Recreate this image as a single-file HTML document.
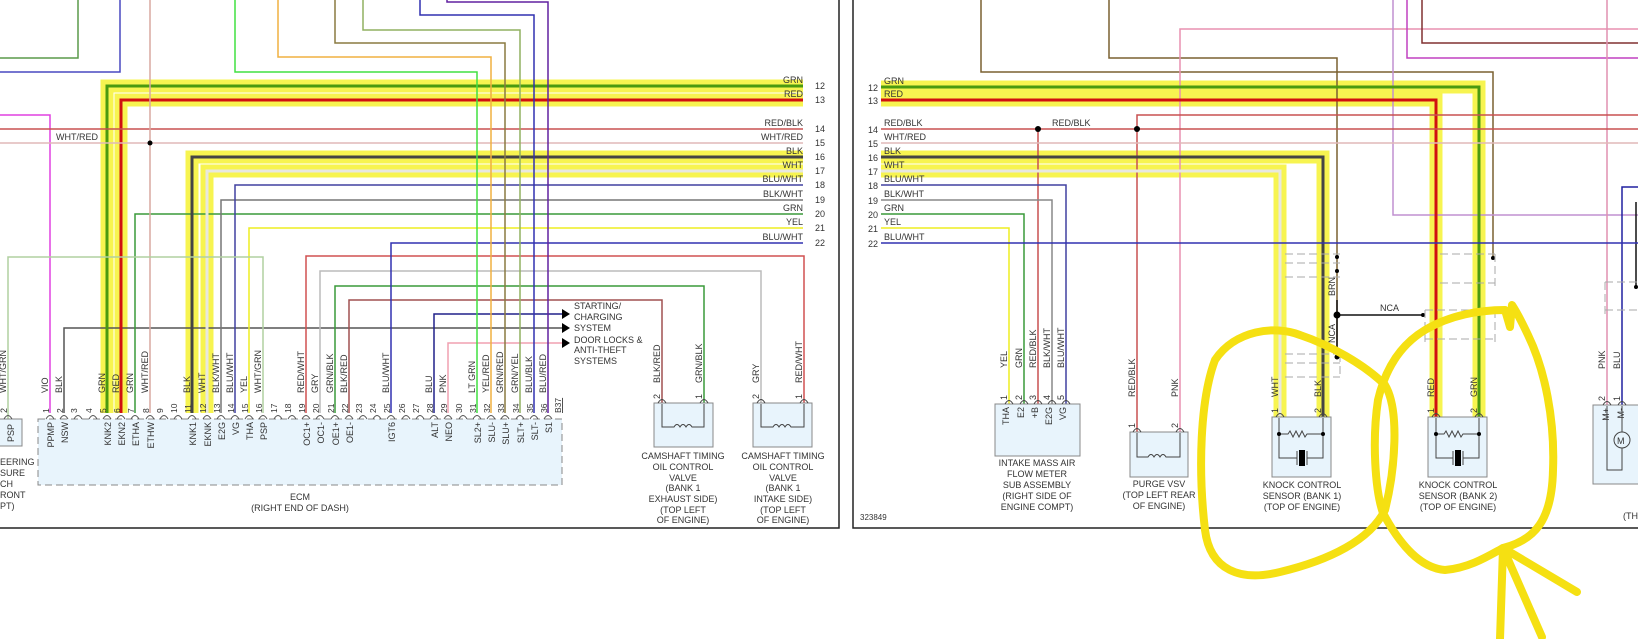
<!DOCTYPE html>
<html><head><meta charset="utf-8"><style>
html,body{margin:0;padding:0;background:#fff;}
svg{display:block;}
text{font-family:"Liberation Sans",sans-serif;fill:#333;}
</style></head><body>
<svg width="1638" height="639" viewBox="0 0 1638 639" xmlns="http://www.w3.org/2000/svg" font-size="9">
<!-- highlights -->
<g fill="none" stroke="#f7f450" stroke-width="13" stroke-linejoin="miter">
<path d="M107,413 V86 H803"/><path d="M121,413 V100 H803"/>
<path d="M192,413 V157 H803"/><path d="M207,413 V171 H803"/>
<path d="M881,87 H1479 V419"/><path d="M881,100 H1436 V419"/>
<path d="M881,157 H1323 V419"/><path d="M881,171 H1280 V419"/>
</g>
<!-- frames -->
<g stroke="#222" stroke-width="1.5" fill="none">
<path d="M839,0 V528 H0"/><path d="M853,0 V528 H1638"/>
</g>
<!-- left wires -->
<g fill="none" stroke-width="1.5">
<path d="M0,58 H78 V0" stroke="#5a9a4a"/>
<path d="M0,72 H120 V0" stroke="#4848c0"/>
<path d="M0,115 H50 V413" stroke="#e040e0"/>
<path d="M64,413 V328 H562" stroke="#555"/>
<path d="M107,413 V86 H803" stroke="#4a9a10" stroke-width="3"/>
<path d="M121,413 V100 H803" stroke="#d01010" stroke-width="3"/>
<path d="M135,413 V214 H803" stroke="#3a9a3a"/>
<path d="M0,129 H803" stroke="#c85050"/>
<path d="M0,143 H803" stroke="#e0b8b8"/>
<path d="M150,413 V0" stroke="#d8a8a0"/>
<path d="M192,413 V157 H803" stroke="#444" stroke-width="3"/>
<path d="M207,413 V171 H803" stroke="#e8e8e0" stroke-width="3"/>
<path d="M221,413 V200 H803" stroke="#777"/>
<path d="M235,413 V185 H803" stroke="#4040a0"/>
<path d="M249,413 V228 H803" stroke="#eded20"/>
<path d="M263,413 V257 H8 V419" stroke="#b0d0a0"/>
<path d="M306,413 V256 H804 V403" stroke="#d05050"/>
<path d="M320,413 V271 H761 V403" stroke="#bbb"/>
<path d="M335,413 V286 H704 V403" stroke="#3a9a3a"/>
<path d="M349,413 V300 H662 V403" stroke="#a05050"/>
<path d="M391,413 V243 H803" stroke="#3030b0"/>
<path d="M434,413 V314 H562" stroke="#20208a"/>
<path d="M448,413 V343 H562" stroke="#f0a0b0"/>
<path d="M477,413 V72 H235 V0" stroke="#40e040"/>
<path d="M491,413 V57 H278 V0" stroke="#f0b040"/>
<path d="M505,413 V43 H335 V0" stroke="#8a7a40"/>
<path d="M520,413 V30 H363 V0" stroke="#90b060"/>
<path d="M534,413 V15 H420 V0" stroke="#3030b0"/>
<path d="M548,413 V2 H447 V0" stroke="#6020a0"/>
</g>
<circle cx="150" cy="143" r="2.5" fill="#000"/>
<g fill="#000"><path d="M562,309 L570,314 L562,319Z"/><path d="M562,323 L570,328 L562,333Z"/><path d="M562,338 L570,343 L562,348Z"/></g>
<!-- left bus labels -->
<g text-anchor="end">
<text x="803" y="83">GRN</text><text x="803" y="97">RED</text><text x="803" y="126">RED/BLK</text><text x="803" y="140">WHT/RED</text>
<text x="803" y="154">BLK</text><text x="803" y="168">WHT</text><text x="803" y="182">BLU/WHT</text><text x="803" y="197">BLK/WHT</text>
<text x="803" y="211">GRN</text><text x="803" y="225">YEL</text><text x="803" y="240">BLU/WHT</text>
</g>
<g><text x="815" y="89">12</text><text x="815" y="103">13</text><text x="815" y="132">14</text><text x="815" y="146">15</text><text x="815" y="160">16</text><text x="815" y="174">17</text><text x="815" y="188">18</text><text x="815" y="203">19</text><text x="815" y="217">20</text><text x="815" y="231">21</text><text x="815" y="246">22</text></g>
<text x="56" y="140">WHT/RED</text>
<text x="574" y="309">STARTING/</text><text x="574" y="320">CHARGING</text><text x="574" y="331">SYSTEM</text>
<text x="574" y="343">DOOR LOCKS &amp;</text><text x="574" y="353">ANTI-THEFT</text><text x="574" y="364">SYSTEMS</text>
<!-- ECM -->
<rect x="38" y="419" width="524" height="66" fill="#e8f4fc" stroke="#888" stroke-dasharray="7,4"/>
<g fill="none" stroke="#555" stroke-width="1">
<path d="M46,419 Q50,412 54,419 M60,419 Q64,412 68,419 M74,419 Q78,412 82,419 M89,419 Q93,412 97,419 M103,419 Q107,412 111,419 M117,419 Q121,412 125,419 M131,419 Q135,412 139,419 M146,419 Q150,412 154,419 M160,419 Q164,412 168,419 M174,419 Q178,412 182,419 M188,419 Q192,412 196,419 M203,419 Q207,412 211,419 M217,419 Q221,412 225,419 M231,419 Q235,412 239,419 M245,419 Q249,412 253,419 M259,419 Q263,412 267,419 M274,419 Q278,412 282,419 M288,419 Q292,412 296,419 M302,419 Q306,412 310,419 M316,419 Q320,412 324,419 M331,419 Q335,412 339,419 M345,419 Q349,412 353,419 M359,419 Q363,412 367,419 M373,419 Q377,412 381,419 M387,419 Q391,412 395,419 M402,419 Q406,412 410,419 M416,419 Q420,412 424,419 M430,419 Q434,412 438,419 M444,419 Q448,412 452,419 M459,419 Q463,412 467,419 M473,419 Q477,412 481,419 M487,419 Q491,412 495,419 M501,419 Q505,412 509,419 M516,419 Q520,412 524,419 M530,419 Q534,412 538,419 M544,419 Q548,412 552,419"/>
</g>
<g font-size="8.5">
<text transform="translate(49,413) rotate(-90)">1</text><text transform="translate(63,413) rotate(-90)">2</text><text transform="translate(77,413) rotate(-90)">3</text><text transform="translate(92,413) rotate(-90)">4</text><text transform="translate(106,413) rotate(-90)">5</text><text transform="translate(120,413) rotate(-90)">6</text><text transform="translate(134,413) rotate(-90)">7</text><text transform="translate(149,413) rotate(-90)">8</text><text transform="translate(163,413) rotate(-90)">9</text><text transform="translate(177,413) rotate(-90)">10</text><text transform="translate(191,413) rotate(-90)">11</text><text transform="translate(206,413) rotate(-90)">12</text><text transform="translate(220,413) rotate(-90)">13</text><text transform="translate(234,413) rotate(-90)">14</text><text transform="translate(248,413) rotate(-90)">15</text><text transform="translate(262,413) rotate(-90)">16</text><text transform="translate(277,413) rotate(-90)">17</text><text transform="translate(291,413) rotate(-90)">18</text><text transform="translate(305,413) rotate(-90)">19</text><text transform="translate(319,413) rotate(-90)">20</text><text transform="translate(334,413) rotate(-90)">21</text><text transform="translate(348,413) rotate(-90)">22</text><text transform="translate(362,413) rotate(-90)">23</text><text transform="translate(376,413) rotate(-90)">24</text><text transform="translate(390,413) rotate(-90)">25</text><text transform="translate(405,413) rotate(-90)">26</text><text transform="translate(419,413) rotate(-90)">27</text><text transform="translate(433,413) rotate(-90)">28</text><text transform="translate(447,413) rotate(-90)">29</text><text transform="translate(462,413) rotate(-90)">30</text><text transform="translate(476,413) rotate(-90)">31</text><text transform="translate(490,413) rotate(-90)">32</text><text transform="translate(504,413) rotate(-90)">33</text><text transform="translate(519,413) rotate(-90)">34</text><text transform="translate(533,413) rotate(-90)">35</text><text transform="translate(547,413) rotate(-90)">36</text><text transform="translate(561,413) rotate(-90)" text-decoration="underline">B37</text>
</g>
<g>
<text transform="translate(48,393) rotate(-90)">VIO</text><text transform="translate(62,393) rotate(-90)">BLK</text><text transform="translate(105,393) rotate(-90)">GRN</text><text transform="translate(119,393) rotate(-90)">RED</text><text transform="translate(133,393) rotate(-90)">GRN</text><text transform="translate(148,393) rotate(-90)">WHT/RED</text><text transform="translate(190,393) rotate(-90)">BLK</text><text transform="translate(205,393) rotate(-90)">WHT</text><text transform="translate(219,393) rotate(-90)">BLK/WHT</text><text transform="translate(233,393) rotate(-90)">BLU/WHT</text><text transform="translate(247,393) rotate(-90)">YEL</text><text transform="translate(261,393) rotate(-90)">WHT/GRN</text><text transform="translate(304,393) rotate(-90)">RED/WHT</text><text transform="translate(318,393) rotate(-90)">GRY</text><text transform="translate(333,393) rotate(-90)">GRN/BLK</text><text transform="translate(347,393) rotate(-90)">BLK/RED</text><text transform="translate(389,393) rotate(-90)">BLU/WHT</text><text transform="translate(432,393) rotate(-90)">BLU</text><text transform="translate(446,393) rotate(-90)">PNK</text><text transform="translate(475,393) rotate(-90)">LT GRN</text><text transform="translate(489,393) rotate(-90)">YEL/RED</text><text transform="translate(503,393) rotate(-90)">GRN/RED</text><text transform="translate(518,393) rotate(-90)">GRN/YEL</text><text transform="translate(532,393) rotate(-90)">BLU/BLK</text><text transform="translate(546,393) rotate(-90)">BLU/RED</text>
<text transform="translate(6,393) rotate(-90)">WHT/GRN</text>
</g>
<g text-anchor="end">
<text transform="translate(54,422) rotate(-90)">PPMP</text><text transform="translate(68,422) rotate(-90)">NSW</text><text transform="translate(111,422) rotate(-90)">KNK2</text><text transform="translate(125,422) rotate(-90)">EKN2</text><text transform="translate(139,422) rotate(-90)">ETHA</text><text transform="translate(154,422) rotate(-90)">ETHW</text><text transform="translate(196,422) rotate(-90)">KNK1</text><text transform="translate(211,422) rotate(-90)">EKNK</text><text transform="translate(225,422) rotate(-90)">E2G</text><text transform="translate(239,422) rotate(-90)">VG</text><text transform="translate(253,422) rotate(-90)">THA</text><text transform="translate(267,422) rotate(-90)">PSP</text><text transform="translate(310,422) rotate(-90)">OC1+</text><text transform="translate(324,422) rotate(-90)">OC1-</text><text transform="translate(339,422) rotate(-90)">OE1+</text><text transform="translate(353,422) rotate(-90)">OE1-</text><text transform="translate(395,422) rotate(-90)">IGT6</text><text transform="translate(438,422) rotate(-90)">ALT</text><text transform="translate(452,422) rotate(-90)">NEO</text><text transform="translate(481,422) rotate(-90)">SL2+</text><text transform="translate(495,422) rotate(-90)">SLU-</text><text transform="translate(509,422) rotate(-90)">SLU+</text><text transform="translate(524,422) rotate(-90)">SLT+</text><text transform="translate(538,422) rotate(-90)">SLT-</text><text transform="translate(552,422) rotate(-90)">S1</text>
</g>
<g text-anchor="middle"><text x="300" y="500">ECM</text><text x="300" y="511">(RIGHT END OF DASH)</text></g>
<!-- PSP -->
<rect x="-2" y="419" width="24" height="27" fill="#e8f4fc" stroke="#888"/>
<path d="M4,419 Q8,412 12,419" fill="none" stroke="#555"/>
<text transform="translate(7,413) rotate(-90)">2</text>
<text transform="translate(14,442) rotate(-90)">PSP</text>
<text x="0" y="465">EERING</text><text x="0" y="476">SURE</text><text x="0" y="487">CH</text><text x="0" y="498">RONT</text><text x="0" y="509">PT)</text>
<!-- cam valves -->
<g fill="#e8f4fc" stroke="#888"><rect x="654" y="403" width="59" height="44"/><rect x="753" y="403" width="59" height="44"/></g>
<g fill="none" stroke="#444">
<path d="M658,403 Q662,396 666,403 M700,403 Q704,396 708,403 M757,403 Q761,396 765,403 M800,403 Q804,396 808,403"/>
<path d="M662,404 V427 H674 q3,-5 6,0 q3,-5 6,0 q3,-5 6,0 H704 V404"/>
<path d="M761,404 V427 H773 q3,-5 6,0 q3,-5 6,0 q3,-5 6,0 H804 V404"/>
</g>
<g><text transform="translate(660,383) rotate(-90)">BLK/RED</text><text transform="translate(702,383) rotate(-90)">GRN/BLK</text><text transform="translate(759,383) rotate(-90)">GRY</text><text transform="translate(802,383) rotate(-90)">RED/WHT</text>
<text transform="translate(660,399) rotate(-90)">2</text><text transform="translate(702,399) rotate(-90)">1</text><text transform="translate(759,399) rotate(-90)">2</text><text transform="translate(802,399) rotate(-90)">1</text></g>
<g text-anchor="middle">
<text x="683" y="459">CAMSHAFT TIMING</text><text x="683" y="470">OIL CONTROL</text><text x="683" y="481">VALVE</text><text x="683" y="491">(BANK 1</text><text x="683" y="502">EXHAUST SIDE)</text><text x="683" y="513">(TOP LEFT</text><text x="683" y="523">OF ENGINE)</text>
<text x="783" y="459">CAMSHAFT TIMING</text><text x="783" y="470">OIL CONTROL</text><text x="783" y="481">VALVE</text><text x="783" y="491">(BANK 1</text><text x="783" y="502">INTAKE SIDE)</text><text x="783" y="513">(TOP LEFT</text><text x="783" y="523">OF ENGINE)</text>
</g>
<!-- right wires -->
<g fill="none" stroke-width="1.5">
<path d="M981,0 V72 H1493 V258" stroke="#7a6030"/>
<path d="M1109,0 V58 H1337 V358" stroke="#7a6030"/>
<path d="M1180,432 V29 H1638" stroke="#e890b0"/>
<path d="M1393,0 V215 H1638" stroke="#c090d0"/>
<path d="M1407,0 V58 H1638" stroke="#c040c0"/>
<path d="M1422,0 V43 H1638" stroke="#803030"/>
<path d="M1607,0 V405" stroke="#e090b0"/>
<path d="M1622,405 V187 H1638" stroke="#2020a0"/>
<path d="M1636,202 V287" stroke="#111"/>
<path d="M881,87 H1479 V419" stroke="#4a9a10" stroke-width="3"/>
<path d="M881,100 H1436 V419" stroke="#d01010" stroke-width="3"/>
<path d="M881,129 H1638" stroke="#c85050"/>
<path d="M1038,129 V404" stroke="#c85050"/>
<path d="M1137,129 V115 H1638 M1137,129 V432" stroke="#c85050"/>
<path d="M881,143 H1638" stroke="#e0b8b8"/>
<path d="M881,157 H1323 V419" stroke="#444" stroke-width="3"/>
<path d="M881,171 H1280 V419" stroke="#e8e8e0" stroke-width="3"/>
<path d="M881,185 H1066 V404" stroke="#4040a0"/>
<path d="M881,200 H1052 V404" stroke="#888"/>
<path d="M881,214 H1024 V404" stroke="#3a9a3a"/>
<path d="M881,228 H1009 V404" stroke="#eded20"/>
<path d="M881,243 H1638" stroke="#3030b0"/>
<path d="M1337,315 H1423" stroke="#111"/>
<path d="M1337,300 V358" stroke="#111"/>
</g>
<g fill="#000"><circle cx="1038" cy="129" r="3"/><circle cx="1137" cy="129" r="3"/><circle cx="1337" cy="257" r="2"/><circle cx="1337" cy="271" r="2"/><circle cx="1337" cy="315" r="3.5"/><circle cx="1337" cy="357" r="2.5"/><circle cx="1423" cy="315" r="2"/><circle cx="1493" cy="258" r="2"/><circle cx="1636" cy="287" r="2"/></g>
<!-- shields -->
<g fill="none" stroke="#aaa" stroke-dasharray="8,4">
<path d="M1285,254 H1340 M1285,263 H1340 M1285,277 H1340"/>
<path d="M1285,354 H1340 M1285,363 H1340 M1285,377 H1340 M1340,354 V377"/>
<path d="M1440,254 H1495 M1440,283 H1495 M1495,254 V288"/>
<path d="M1425,310 H1495 M1425,339 H1495 M1425,310 V345 M1495,310 V345"/>
<path d="M1605,282 H1638 M1605,310 H1638 M1605,282 V318"/>
</g>
<!-- right labels -->
<g><text x="868" y="91">12</text><text x="868" y="104">13</text><text x="868" y="133">14</text><text x="868" y="147">15</text><text x="868" y="161">16</text><text x="868" y="175">17</text><text x="868" y="189">18</text><text x="868" y="204">19</text><text x="868" y="218">20</text><text x="868" y="232">21</text><text x="868" y="247">22</text>
<text x="884" y="84">GRN</text><text x="884" y="97">RED</text><text x="884" y="126">RED/BLK</text><text x="1052" y="126">RED/BLK</text><text x="884" y="140">WHT/RED</text><text x="884" y="154">BLK</text><text x="884" y="168">WHT</text><text x="884" y="182">BLU/WHT</text><text x="884" y="197">BLK/WHT</text><text x="884" y="211">GRN</text><text x="884" y="225">YEL</text><text x="884" y="240">BLU/WHT</text>
<text x="1380" y="311">NCA</text>
<text x="860" y="520" font-size="8">323849</text></g>
<g>
<text transform="translate(1007,368) rotate(-90)">YEL</text><text transform="translate(1022,368) rotate(-90)">GRN</text><text transform="translate(1036,368) rotate(-90)">RED/BLK</text><text transform="translate(1050,368) rotate(-90)">BLK/WHT</text><text transform="translate(1064,368) rotate(-90)">BLU/WHT</text>
<text transform="translate(1007,400) rotate(-90)">1</text><text transform="translate(1022,400) rotate(-90)">2</text><text transform="translate(1036,400) rotate(-90)">3</text><text transform="translate(1050,400) rotate(-90)">4</text><text transform="translate(1064,400) rotate(-90)">5</text>
<text transform="translate(1135,397) rotate(-90)">RED/BLK</text><text transform="translate(1178,397) rotate(-90)">PNK</text>
<text transform="translate(1135,428) rotate(-90)">1</text><text transform="translate(1178,428) rotate(-90)">2</text>
<text transform="translate(1278,397) rotate(-90)">WHT</text><text transform="translate(1321,397) rotate(-90)">BLK</text>
<text transform="translate(1278,413) rotate(-90)">1</text><text transform="translate(1321,413) rotate(-90)">2</text>
<text transform="translate(1434,397) rotate(-90)">RED</text><text transform="translate(1477,397) rotate(-90)">GRN</text>
<text transform="translate(1434,413) rotate(-90)">1</text><text transform="translate(1477,413) rotate(-90)">2</text>
<text transform="translate(1335,296) rotate(-90)">BRN</text><text transform="translate(1335,343) rotate(-90)">NCA</text>
<text transform="translate(1605,369) rotate(-90)">PNK</text><text transform="translate(1620,369) rotate(-90)">BLU</text>
<text transform="translate(1605,401) rotate(-90)">2</text><text transform="translate(1620,401) rotate(-90)">1</text>
</g>
<!-- right devices -->
<g fill="#e8f4fc" stroke="#888">
<rect x="995" y="404" width="85" height="52"/><rect x="1130" y="432" width="58" height="45"/>
<rect x="1272" y="417" width="59" height="60"/><rect x="1428" y="417" width="59" height="60"/>
<rect x="1593" y="405" width="50" height="79"/>
</g>
<g fill="none" stroke="#444">
<path d="M1005,404 Q1009,397 1013,404 M1020,404 Q1024,397 1028,404 M1034,404 Q1038,397 1042,404 M1048,404 Q1052,397 1056,404 M1062,404 Q1066,397 1070,404"/>
<path d="M1133,432 Q1137,425 1141,432 M1176,432 Q1180,425 1184,432 M1137,433 V457 H1148 q3,-5 6,0 q3,-5 6,0 q3,-5 6,0 H1180 V433"/>
<path d="M1276,417 Q1280,410 1284,417 M1319,417 Q1323,410 1327,417 M1279,418 V458 H1297 M1307,458 H1323 V418 M1279,434 H1288 l2,-3 l3,6 l3,-6 l3,6 l3,-6 l3,6 l2,-3 H1323 M1297,451 V465 M1307,451 V465"/>
<path d="M1432,417 Q1436,410 1440,417 M1475,417 Q1479,410 1483,417 M1436,418 V458 H1453 M1463,458 H1479 V418 M1436,434 H1444 l2,-3 l3,6 l3,-6 l3,6 l3,-6 l3,6 l2,-3 H1479 M1453,451 V465 M1463,451 V465"/>
<path d="M1603,405 Q1607,398 1611,405 M1618,405 Q1622,398 1626,405 M1607,406 V470 H1622 V448 M1622,406 V432"/>
<circle cx="1622" cy="440" r="8"/>
</g>
<g fill="#000"><rect x="1299" y="450" width="6" height="16"/><rect x="1455" y="450" width="6" height="16"/><circle cx="1279" cy="434" r="2"/><circle cx="1323" cy="434" r="2"/><circle cx="1436" cy="434" r="2"/><circle cx="1479" cy="434" r="2"/></g>
<text x="1617" y="444" font-size="9">M</text>
<g text-anchor="end">
<text transform="translate(1009,407) rotate(-90)">THA</text><text transform="translate(1024,407) rotate(-90)">E2</text><text transform="translate(1038,407) rotate(-90)">+B</text><text transform="translate(1052,407) rotate(-90)">E2G</text><text transform="translate(1066,407) rotate(-90)">VG</text>
<text transform="translate(1609,408) rotate(-90)">M+</text><text transform="translate(1624,408) rotate(-90)">M-</text>
</g>
<g text-anchor="middle">
<text x="1037" y="466">INTAKE MASS AIR</text><text x="1037" y="477">FLOW METER</text><text x="1037" y="488">SUB ASSEMBLY</text><text x="1037" y="499">(RIGHT SIDE OF</text><text x="1037" y="510">ENGINE COMPT)</text>
<text x="1159" y="487">PURGE VSV</text><text x="1159" y="498">(TOP LEFT REAR</text><text x="1159" y="509">OF ENGINE)</text>
<text x="1302" y="488">KNOCK CONTROL</text><text x="1302" y="499">SENSOR (BANK 1)</text><text x="1302" y="510">(TOP OF ENGINE)</text>
<text x="1458" y="488">KNOCK CONTROL</text><text x="1458" y="499">SENSOR (BANK 2)</text><text x="1458" y="510">(TOP OF ENGINE)</text>
</g>
<text x="1623" y="519">(TH</text>
<!-- hand-drawn yellow -->
<g fill="none" stroke="#f5e012" stroke-width="8" stroke-linecap="round" stroke-linejoin="round">
<path d="M1300,335 C1330,345 1365,365 1385,385 C1400,410 1395,470 1385,510 C1370,540 1330,560 1280,572 C1240,582 1210,570 1205,530 C1198,470 1200,400 1215,360 C1235,330 1275,325 1300,335"/>
<path d="M1383,513 C1400,545 1420,568 1445,570 C1470,568 1490,555 1503,548 C1535,540 1552,520 1553,470 C1555,420 1545,370 1528,335 C1520,318 1514,308 1512,305 L1510,327 L1505,310 C1480,310 1450,315 1425,330 C1400,345 1385,370 1378,400 C1372,440 1375,490 1383,513"/>
<path d="M1503,548 L1500,639 M1503,548 L1542,637 M1503,548 L1577,592"/>
</g>
</svg>
</body></html>
